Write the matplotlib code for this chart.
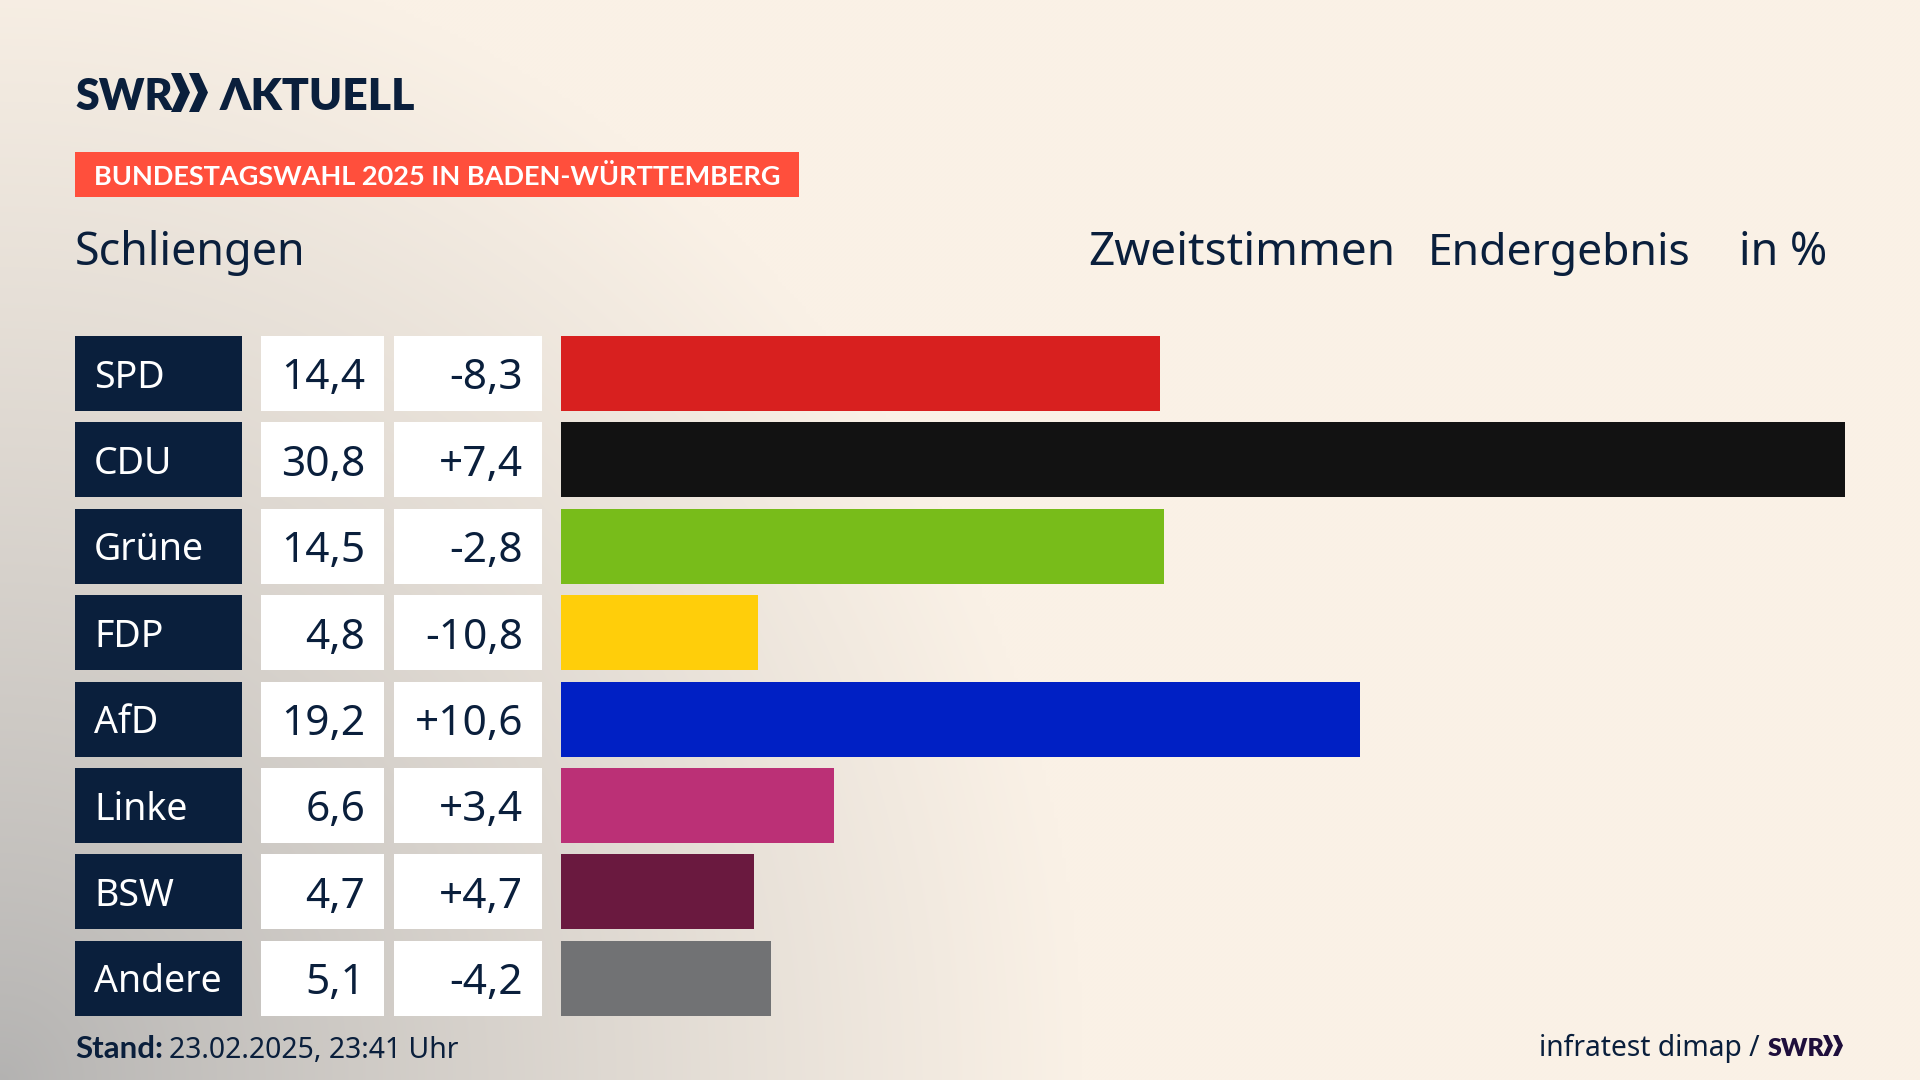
import numpy as np
import matplotlib
matplotlib.use('Agg')
import matplotlib.pyplot as plt
from matplotlib.patches import Rectangle, Polygon

plt.rcParams['font.family'] = ['Noto Sans', 'DejaVu Sans']

parties = ['SPD', 'CDU', 'Grüne', 'FDP', 'AfD', 'Linke', 'BSW', 'Andere']
shares = [14.4, 30.8, 14.5, 4.8, 19.2, 6.6, 4.7, 5.1]
changes = ['-8,3', '+7,4', '-2,8', '-10,8', '+10,6', '+3,4', '+4,7', '-4,2']
share_labels = ['14,4', '30,8', '14,5', '4,8', '19,2', '6,6', '4,7', '5,1']
bar_colors = ['#D8201F', '#121212', '#78BC1A', '#FFCE0A', '#0020C4', '#BB3076', '#6A193F', '#717274']

NAVY = '#0A1F3C'
BOLD = ['Lato', 'DejaVu Sans']
W, H = 1920, 1080
ROW_TOP = 336
ROW_STEP = 86.4
ROW_H = 75

fig = plt.figure(figsize=(19.2, 10.8), dpi=100)

# background, cream with a grey corner bottom left
ax = fig.add_axes([0, 0, 1, 1])
xx, yy = np.meshgrid(np.arange(0, W, 4), np.arange(0, H, 4))
t = np.sqrt((xx / 1080) ** 2 + ((H - yy) / 1150) ** 2)
t = np.clip(t, 0, 1) ** 0.85
cream = np.array([250, 241, 230]) / 255
grey = np.array([179, 178, 177]) / 255
bg = grey + (cream - grey) * t[..., None]
ax.imshow(bg, extent=[0, W, H, 0], aspect='auto', interpolation='bilinear', zorder=0)
ax.set_xlim(0, W)
ax.set_ylim(H, 0)
ax.axis('off')


def chevrons(x, y0, y1, w, th, color):
    ym = (y0 + y1) / 2
    for cx in x:
        ax.add_patch(Polygon([(cx, y0), (cx + th, y0), (cx + w, ym), (cx + th, y1), (cx, y1), (cx + w - th, ym)],
                             closed=True, color=color, lw=0, zorder=3))


# logo
ax.text(75, 110, 'SWR', fontsize=31, fontweight='heavy', color=NAVY, va='baseline', ha='left', family=BOLD)
chevrons([171, 189], 73, 112, 19, 10, NAVY)
ax.text(220, 110, 'ΛKTUELL', fontsize=32, fontweight='heavy', color=NAVY, va='baseline', ha='left', family=BOLD)

# banner
ax.add_patch(Rectangle((75, 152), 724, 45, color='#FF4F3C', lw=0, zorder=2))
ax.text(94, 185, 'BUNDESTAGSWAHL 2025 IN BADEN-WÜRTTEMBERG', fontsize=19.55, fontweight='bold', color='white',
        va='baseline', ha='left', zorder=3, family=BOLD)

# header line
ax.text(75, 265, 'Schliengen', fontsize=32.3, color=NAVY, va='baseline')
ax.text(1088, 265, 'Zweitstimmen', fontsize=33, color=NAVY, va='baseline')
ax.text(1428, 265, 'Endergebnis', fontsize=32, color=NAVY, va='baseline')
ax.text(1739, 265, 'in %', fontsize=32.3, color=NAVY, va='baseline')

# table cells
for i, party in enumerate(parties):
    top = ROW_TOP + i * ROW_STEP
    mid = top + ROW_H / 2 + 16
    ax.add_patch(Rectangle((75, top), 167, ROW_H, color=NAVY, lw=0, zorder=2))
    ax.add_patch(Rectangle((261, top), 123, ROW_H, color='white', lw=0, zorder=2))
    ax.add_patch(Rectangle((394, top), 148, ROW_H, color='white', lw=0, zorder=2))
    ax.text(94, mid - 2, party, fontsize=27, color='white', va='baseline', ha='left', zorder=3)
    ax.text(365, mid, share_labels[i], fontsize=30.5, color=NAVY, va='baseline', ha='right', zorder=3)
    ax.text(523, mid, changes[i], fontsize=30.5, color=NAVY, va='baseline', ha='right', zorder=3)

# footer
ax.text(75, 1058, 'Stand:', fontsize=22.5, fontweight='bold', color=NAVY, va='baseline', family=BOLD)
ax.text(169, 1058, '23.02.2025, 23:41 Uhr', fontsize=20.4, color=NAVY, va='baseline')
ax.text(1539, 1056, 'infratest dimap /', fontsize=20.3, color=NAVY, va='baseline')
ax.text(1768, 1056, 'SWR', fontsize=18, fontweight='heavy', color='#1F0F3C', va='baseline', family=BOLD)
chevrons([1823, 1833], 1035, 1056, 10, 5, '#1F0F3C')

# bars
pad = (ROW_STEP - ROW_H) / 2
bar_top = ROW_TOP - pad
bar_bottom = ROW_TOP + 7 * ROW_STEP + ROW_H + pad
ax_bars = fig.add_axes([561 / W, 1 - bar_bottom / H, (1845 - 561) / W, (bar_bottom - bar_top) / H])
ax_bars.barh(range(len(parties)), shares, height=ROW_H / ROW_STEP, color=bar_colors)
ax_bars.set_xlim(0.08, 30.8)
ax_bars.set_ylim(7.5, -0.5)
ax_bars.axis('off')
ax_bars.patch.set_alpha(0)

plt.savefig('out.png', dpi=100)
